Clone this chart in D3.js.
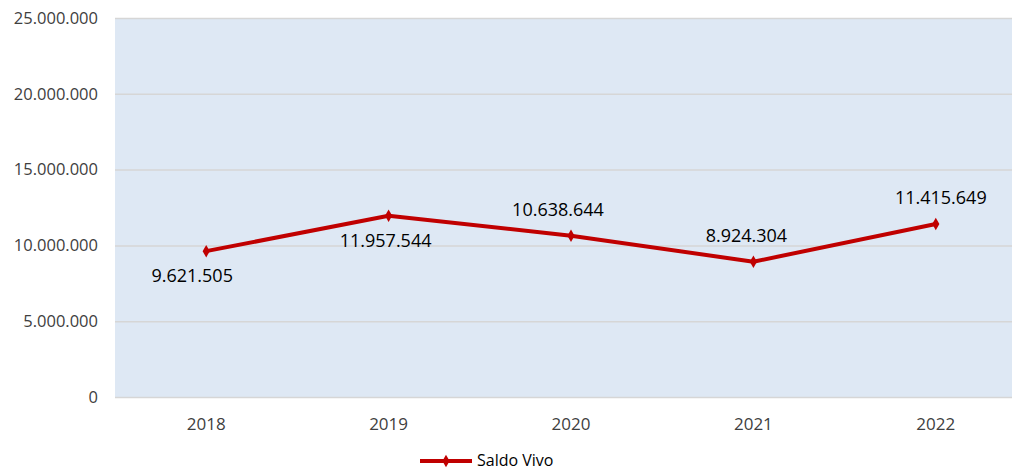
<!DOCTYPE html>
<html lang="en">
<head>
  <meta charset="UTF-8">
  <title>Saldo Vivo</title>
  <script src="https://d3js.org/d3.v7.min.js"></script>
  <style>
    body { margin: 0; background: #fff; font-family: "Open Sans", "Liberation Sans", sans-serif; }
    svg { display: block; }
  </style>
</head>
<body>
<div id="chart"></div>
<script>
// data
const years = ["2018", "2019", "2020", "2021", "2022"];
const saldoVivo = [9621505, 11957544, 10638644, 8924304, 11415649];
const yTicks = [0, 5000000, 10000000, 15000000, 20000000, 25000000];
const labelSide = ["below", "below", "above", "above", "above"];
const labelShift = [-14, -3, -13, -7, 5];

const width = 1012;
const height = 470;
const margin = { top: 18, right: -15, bottom: 73, left: 115 };

const svg = d3.select("#chart")
  .append("svg")
  .attr("width", width)
  .attr("height", height);

const x = d3.scaleBand()
  .domain(years)
  .range([margin.left, width - margin.right]);

const y = d3.scaleLinear()
  .domain([0, 25000000])
  .range([height - margin.bottom, margin.top]);

const fmt = d3.formatLocale({ decimal: ",", thousands: ".", grouping: [3], currency: ["", ""] }).format(",d");

// plot background
svg.append("rect")
  .attr("x", margin.left)
  .attr("y", margin.top)
  .attr("width", width - margin.right - margin.left)
  .attr("height", y(0) - margin.top)
  .attr("fill", "#dee8f4");

// gridlines
svg.append("g")
  .selectAll("line")
  .data(yTicks)
  .join("line")
  .attr("x1", margin.left)
  .attr("x2", width - margin.right)
  .attr("y1", d => y(d) + 0.5)
  .attr("y2", d => y(d) + 0.5)
  .attr("stroke", "#d6d6d6")
  .attr("stroke-width", 1.5);

// y axis labels
svg.append("g")
  .selectAll("text")
  .data(yTicks)
  .join("text")
  .attr("x", 98)
  .attr("y", d => y(d))
  .attr("dy", "0.35em")
  .attr("text-anchor", "end")
  .attr("fill", "#404040")
  .style("font-size", "16.5px")
  .text(d => fmt(d));

// x axis labels
svg.append("g")
  .selectAll("text")
  .data(years)
  .join("text")
  .attr("x", d => x(d) + x.bandwidth() / 2)
  .attr("y", y(0) + 27)
  .attr("dy", "0.35em")
  .attr("text-anchor", "middle")
  .attr("fill", "#404040")
  .style("font-size", "17px")
  .text(d => d);

const pts = years.map((yr, i) => ({ yr, v: saldoVivo[i], i }));

// line
const line = d3.line()
  .x(d => x(d.yr) + x.bandwidth() / 2)
  .y(d => y(d.v));

svg.append("path")
  .datum(pts)
  .attr("d", line)
  .attr("fill", "none")
  .attr("stroke", "#c00000")
  .attr("stroke-width", 4)
  .attr("stroke-linejoin", "round");

// markers
const diamond = d3.symbol().type(d3.symbolDiamond).size(45);
svg.append("g")
  .selectAll("path")
  .data(pts)
  .join("path")
  .attr("d", diamond)
  .attr("transform", d => `translate(${x(d.yr) + x.bandwidth() / 2},${y(d.v)})`)
  .attr("fill", "#c00000");

// data labels
svg.append("g")
  .selectAll("text")
  .data(pts)
  .join("text")
  .attr("x", d => x(d.yr) + x.bandwidth() / 2 + labelShift[d.i])
  .attr("y", d => y(d.v) + (labelSide[d.i] === "below" ? 25 : -26))
  .attr("dy", "0.35em")
  .attr("text-anchor", "middle")
  .attr("fill", "#000")
  .style("font-size", "18px")
  .text(d => fmt(d.v));

// legend
const leg = svg.append("g").attr("transform", "translate(420,461)");
leg.append("line")
  .attr("x1", 0).attr("x2", 52)
  .attr("y1", 0).attr("y2", 0)
  .attr("stroke", "#c00000")
  .attr("stroke-width", 4);
leg.append("path")
  .attr("d", diamond)
  .attr("transform", "translate(26,0)")
  .attr("fill", "#c00000");
leg.append("text")
  .attr("x", 57)
  .attr("y", 0)
  .attr("dy", "0.33em")
  .attr("fill", "#000")
  .style("font-size", "16px")
  .text("Saldo Vivo");
</script>
</body>
</html>
